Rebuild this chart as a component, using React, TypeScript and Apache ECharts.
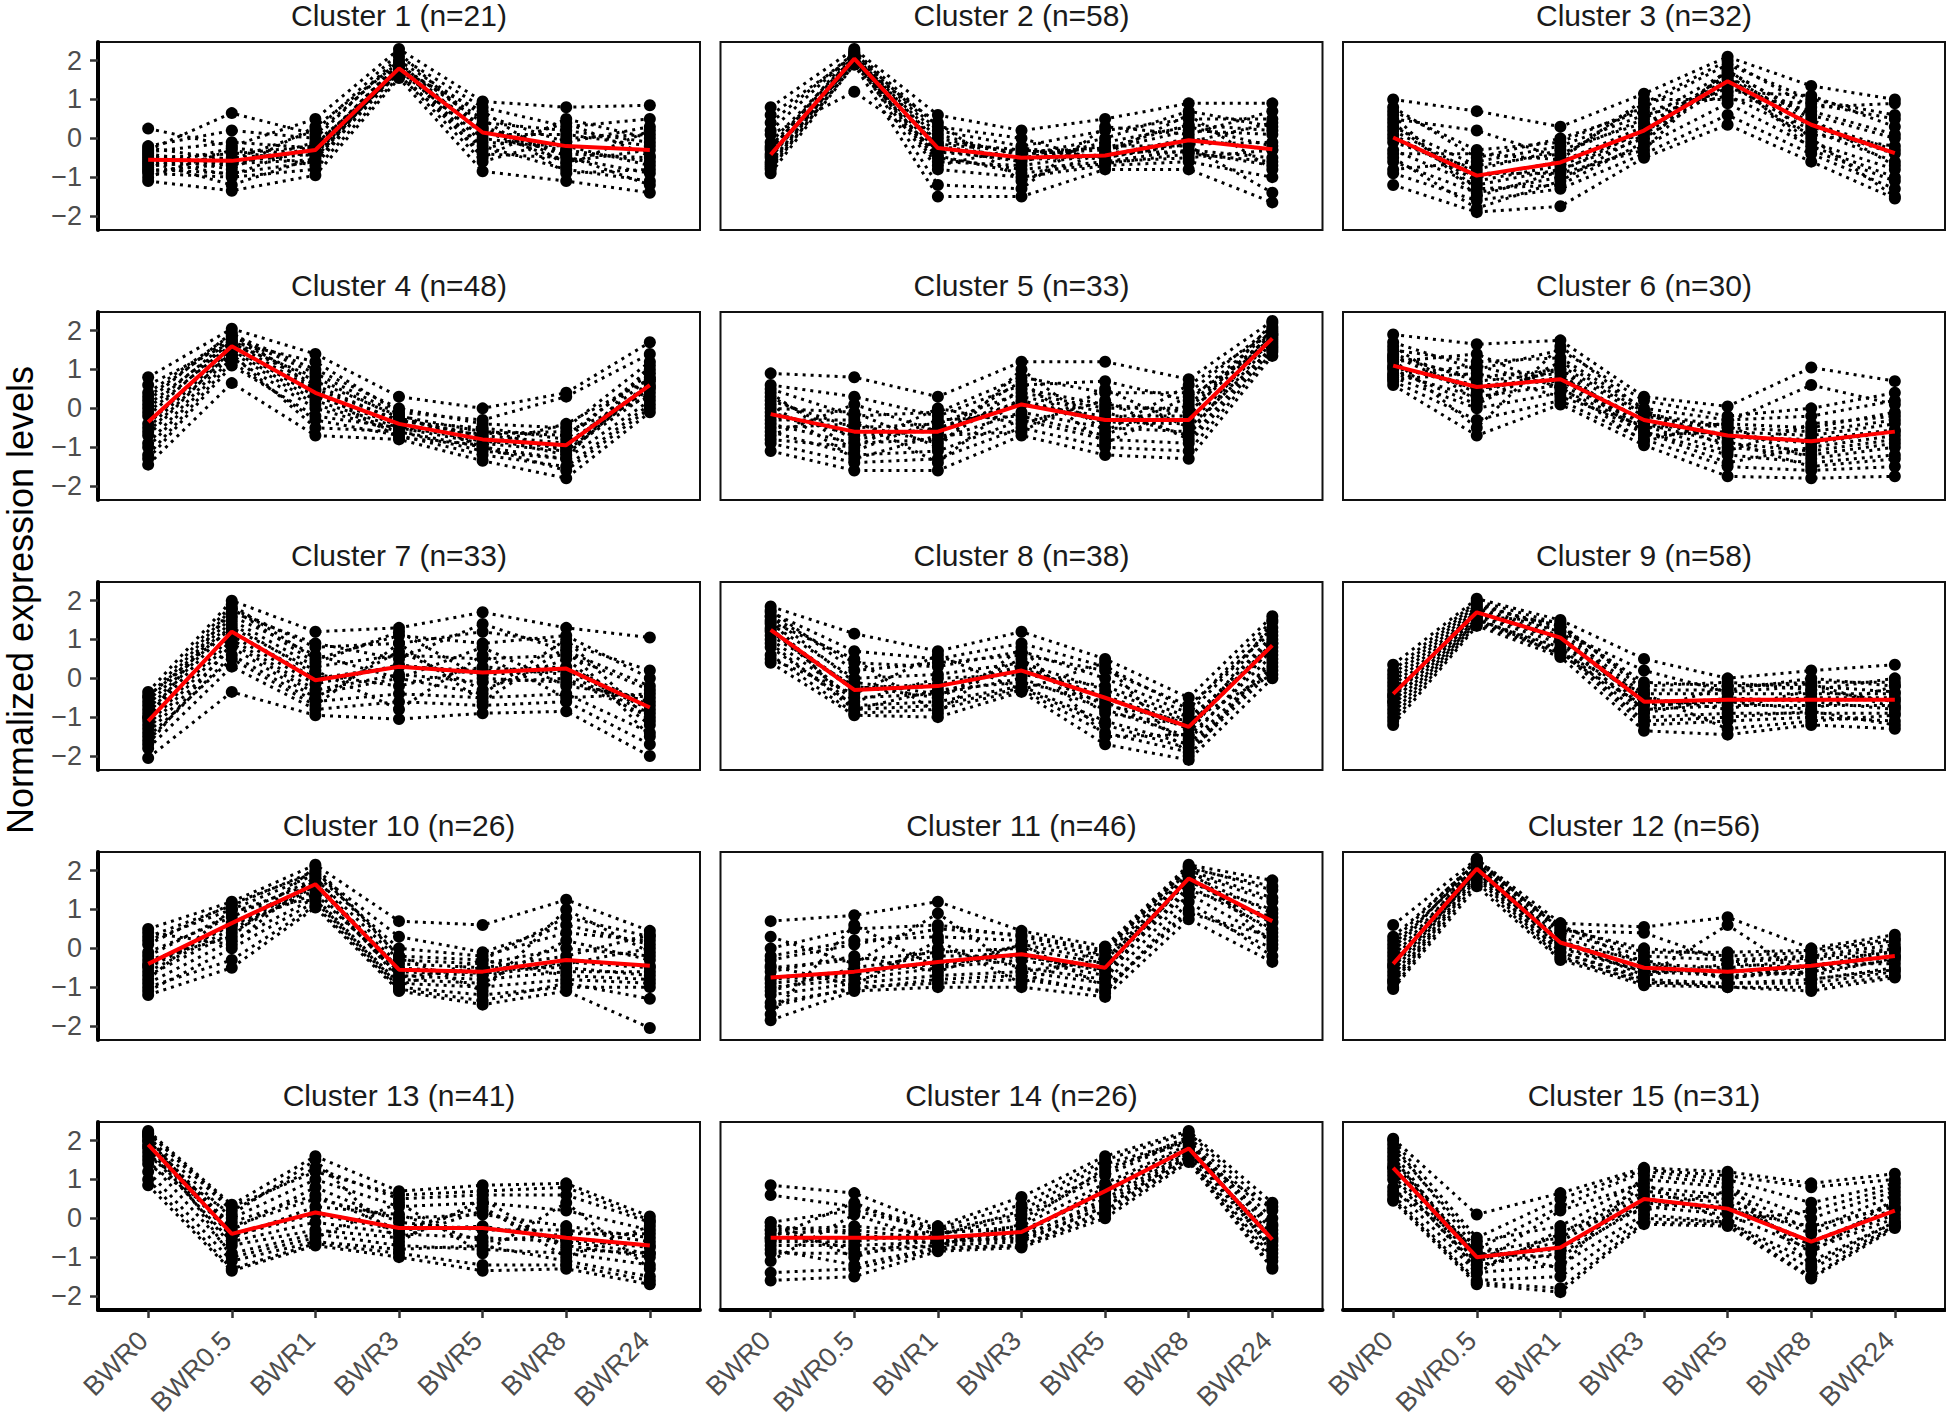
import React, { useEffect, useRef } from 'react';
import * as echarts from 'echarts';

const timePoints = ['BWR0', 'BWR0.5', 'BWR1', 'BWR3', 'BWR5', 'BWR8', 'BWR24'];
const clusterSizes = [21, 58, 32, 48, 33, 30, 33, 38, 58, 26, 46, 56, 41, 26, 31];
const yTicks = [-2, -1, 0, 1, 2];
const xTicks = [0, 1, 2, 3, 4, 5, 6];

const clusterMeans = [
  [-0.55, -0.58, -0.3, 1.8, 0.15, -0.2, -0.3],
  [-0.42, 2.05, -0.25, -0.5, -0.44, -0.05, -0.28],
  [0.02, -0.96, -0.62, 0.2, 1.47, 0.35, -0.38],
  [-0.35, 1.6, 0.4, -0.4, -0.8, -0.95, 0.6],
  [-0.15, -0.6, -0.6, 0.1, -0.3, -0.3, 1.8],
  [1.1, 0.55, 0.75, -0.3, -0.7, -0.85, -0.6],
  [-1.1, 1.2, -0.05, 0.3, 0.15, 0.25, -0.75],
  [1.25, -0.3, -0.2, 0.2, -0.5, -1.25, 0.85],
  [-0.4, 1.7, 1.05, -0.6, -0.55, -0.55, -0.55],
  [-0.4, 0.65, 1.65, -0.55, -0.6, -0.3, -0.45],
  [-0.75, -0.6, -0.35, -0.15, -0.5, 1.8, 0.7],
  [-0.4, 2.05, 0.15, -0.5, -0.6, -0.45, -0.2],
  [1.9, -0.4, 0.15, -0.25, -0.25, -0.5, -0.7],
  [-0.5, -0.5, -0.5, -0.35, 0.7, 1.8, -0.55],
  [1.3, -1.0, -0.75, 0.5, 0.25, -0.6, 0.2],
];

const c1 = [
  [0.25, -0.2, 0.5, 2.3, 0.95, 0.8, 0.85],
  [-1.1, -1.35, -0.95, 1.55, -0.85, -1.1, -1.4],
  [-0.3, 0.65, 0.1, 2.0, 0.6, -0.1, 0.3],
  [-0.8, -0.9, -0.6, 1.7, -0.4, -0.5, -0.9],
  [-0.5, -0.4, -0.2, 1.9, 0.4, 0.2, -0.1],
  [-0.9, -1.0, -0.8, 1.6, -0.2, -0.8, -1.1],
  [-0.2, 0.2, 0.0, 2.1, 0.8, 0.3, 0.5],
  [-0.7, -0.6, -0.4, 1.75, 0.0, -0.3, -0.6],
  [-0.6, -1.2, -0.5, 1.8, 0.2, -0.6, -0.3],
  [-0.4, -0.7, -0.1, 1.65, -0.6, 0.0, 0.1],
  [-1.0, -0.3, -0.7, 1.85, 0.5, -0.9, -0.8],
  [-0.45, -0.8, 0.3, 1.95, -0.5, 0.5, 0.0],
  [-0.65, -0.5, -0.35, 1.7, 0.3, -0.4, -0.5],
  [-0.35, -0.1, -0.25, 1.95, 0.1, 0.1, -0.2],
  [-0.85, -0.65, -0.55, 1.85, -0.1, -0.2, -0.7],
  [-0.55, -0.95, -0.15, 1.75, 0.7, -0.7, 0.2],
  [-0.75, -0.25, -0.45, 1.9, -0.3, 0.4, -0.45],
  [-0.25, -0.55, 0.2, 2.2, 0.25, -0.45, -1.2],
];
const c2 = [
  [0.8, 2.3, 0.6, 0.2, 0.5, 0.9, 0.9],
  [-0.9, 1.9, -1.5, -1.5, -0.8, -0.8, -1.65],
  [0.4, 2.2, 0.2, -0.2, 0.2, 0.5, 0.5],
  [-0.6, 2.0, -0.5, -0.8, -0.6, -0.3, -0.5],
  [-0.2, 2.1, 0.0, -0.4, -0.3, 0.2, 0.1],
  [-0.8, 1.95, -0.8, -1.0, -0.7, -0.6, -1.0],
  [0.1, 1.2, -0.3, -0.6, -0.1, 0.3, -0.2],
  [-0.5, 2.15, -0.1, -0.3, -0.5, -0.1, 0.4],
  [-0.7, 2.05, -0.6, -0.7, -0.4, 0.6, -0.8],
  [-0.3, 2.25, 0.3, 0.0, -0.6, -0.5, -0.3],
  [0.6, 2.1, -1.2, -1.3, 0.3, 0.1, 0.7],
  [-0.4, 2.0, -0.2, -0.5, -0.2, -0.2, -1.4],
  [-0.45, 2.0, -0.35, -0.55, -0.45, 0.0, -0.3],
  [-0.1, 2.1, -0.15, -0.35, -0.25, 0.35, 0.2],
  [-0.75, 1.9, -0.45, -0.9, -0.65, -0.4, -0.6],
  [0.2, 2.2, 0.1, -0.45, 0.0, 0.7, 0.3],
  [-0.65, 2.05, -0.7, -0.25, -0.5, -0.15, -0.1],
  [-0.25, 1.95, 0.4, -1.1, -0.35, -0.35, -0.7],
];
const c3 = [
  [1.0, 0.7, 0.3, 1.15, 2.1, 1.35, 1.0],
  [-1.2, -1.9, -1.75, -0.5, 0.35, -0.6, -1.55],
  [0.7, -0.3, -0.1, 0.8, 1.9, 1.0, 0.6],
  [-0.6, -1.4, -1.0, -0.2, 0.9, -0.2, -1.0],
  [0.3, -0.7, -0.4, 0.5, 1.7, 0.6, 0.0],
  [-0.3, -1.2, -0.8, 0.0, 1.4, 0.2, -0.6],
  [0.5, 0.2, -0.5, 0.9, 2.0, 0.8, 0.9],
  [-0.9, -1.6, -1.3, -0.4, 0.6, -0.4, -1.3],
  [0.0, -1.0, -0.6, 0.3, 1.6, 0.4, -0.3],
  [0.8, -0.5, 0.0, 0.7, 1.2, 1.1, 0.3],
  [-0.5, -1.8, -1.1, 0.1, 1.5, -0.1, -0.8],
  [0.2, -0.9, -0.9, -0.3, 1.8, 0.0, -1.5],
  [0.1, -1.1, -0.7, 0.15, 1.55, 0.3, -0.4],
  [-0.1, -0.8, -0.3, 0.4, 1.3, 0.7, 0.1],
  [0.4, -1.3, -1.2, -0.1, 1.75, 0.5, -0.7],
  [-0.8, -0.6, -0.2, 0.6, 1.1, 0.1, -0.2],
  [0.6, -1.5, -0.85, 0.2, 1.65, -0.3, -1.1],
  [-0.4, -0.4, -0.55, 1.0, 1.0, 0.9, 0.5],
];
const c4 = [
  [0.8, 2.05, 1.4, 0.3, 0.0, 0.4, 1.7],
  [-1.45, 0.65, -0.7, -0.8, -1.35, -1.8, -0.1],
  [0.4, 1.9, 1.0, 0.0, -0.4, -0.5, 1.2],
  [-1.0, 1.3, 0.0, -0.6, -1.1, -1.3, 0.2],
  [0.0, 1.8, 0.7, -0.2, -0.6, -0.7, 0.9],
  [-0.7, 1.5, 0.2, -0.5, -0.9, -1.1, 0.4],
  [-1.2, 1.2, -0.3, -0.7, -1.2, -1.5, 0.1],
  [0.2, 1.95, 0.5, -0.3, -0.7, -0.9, 0.6],
  [-0.4, 1.6, 0.3, -0.4, -0.8, -1.0, 0.8],
  [0.6, 1.7, 1.2, -0.1, -0.3, 0.3, 1.4],
  [-0.9, 1.4, -0.5, -0.6, -1.0, -1.6, 0.0],
  [-0.2, 1.75, 0.6, -0.35, -0.5, -0.8, 1.0],
  [-0.5, 1.55, 0.35, -0.45, -0.85, -1.0, 0.5],
  [-0.1, 1.65, 0.8, -0.25, -0.75, -1.2, 0.7],
  [-0.6, 1.45, 0.1, -0.55, -0.65, -0.6, 0.3],
  [0.3, 1.85, 0.9, -0.15, -1.0, -1.3, 1.1],
  [-1.3, 1.1, -0.2, -0.5, -0.55, -1.1, 0.55],
  [0.1, 1.7, 0.45, -0.75, -0.95, -0.4, 0.75],
];
const c5 = [
  [0.9, 0.8, 0.3, 1.2, 1.2, 0.75, 2.25],
  [-1.1, -1.6, -1.6, -0.7, -1.2, -1.3, 1.35],
  [0.5, -0.2, -0.1, 0.8, 0.4, 0.4, 2.1],
  [-0.6, -1.2, -1.1, -0.3, -0.8, -0.9, 1.5],
  [0.2, -0.5, -0.4, 0.4, 0.0, 0.0, 1.9],
  [-0.4, -0.9, -0.8, -0.1, -0.5, -0.6, 1.7],
  [0.6, 0.3, -0.2, 0.6, 0.7, 0.2, 2.0],
  [-0.9, -1.4, -1.3, -0.5, -1.0, -1.1, 1.45],
  [-0.2, -0.6, -0.6, 0.2, -0.3, -0.3, 1.8],
  [0.0, -0.1, -1.0, 1.0, -0.6, 0.6, 1.95],
  [-0.8, -1.0, 0.0, -0.4, 0.2, -0.8, 1.6],
  [0.3, -0.8, -0.5, 0.1, -0.2, -0.2, 2.2],
  [-0.1, -0.7, -0.55, 0.15, -0.35, -0.4, 1.75],
  [-0.5, -0.4, -0.9, 0.5, 0.1, -0.1, 1.85],
  [0.4, -1.1, -0.3, -0.2, -0.7, 0.3, 1.65],
  [-0.3, -0.3, -1.4, 0.3, -0.1, -0.7, 2.05],
  [0.1, -1.3, -0.7, -0.6, 0.5, -0.5, 1.55],
  [-0.7, 0.1, -0.6, 0.7, -0.9, 0.1, 1.9],
];
const c6 = [
  [1.9, 1.65, 1.75, 0.3, 0.05, 1.05, 0.7],
  [0.6, -0.7, 0.1, -0.95, -1.75, -1.8, -1.75],
  [1.5, 1.2, 1.3, 0.0, -0.3, -0.2, 0.2],
  [0.8, 0.0, 0.4, -0.6, -1.2, -1.4, -1.2],
  [1.3, 0.8, 1.0, -0.2, -0.5, -0.6, -0.3],
  [0.9, 0.3, 0.6, -0.4, -0.9, -1.1, -0.8],
  [1.7, 1.0, 1.5, 0.2, -0.2, 0.0, 0.4],
  [0.7, -0.3, 0.2, -0.8, -1.5, -1.6, -1.5],
  [1.1, 0.5, 0.8, -0.3, -0.7, -0.9, -0.6],
  [1.2, 1.4, 0.5, -0.5, -0.4, -0.5, -0.1],
  [1.0, 0.1, 1.2, -0.1, -1.0, -1.2, -0.9],
  [1.4, 0.7, 0.9, -0.7, -0.6, -0.7, -0.4],
  [1.05, 0.6, 0.7, -0.35, -0.75, -0.8, -0.55],
  [1.6, 0.2, 1.1, -0.15, -0.45, -1.3, -1.0],
  [0.75, 0.9, 0.3, -0.45, -1.1, -0.4, -0.2],
  [1.25, -0.5, 1.6, -0.05, -0.85, -1.5, -1.3],
  [0.85, 1.1, 0.55, -0.85, -0.35, 0.6, 0.1],
  [1.35, 0.4, 1.0, -0.6, -1.4, -1.0, -0.7],
];
const c7 = [
  [-0.35, 2.0, 1.2, 1.3, 1.7, 1.3, 1.05],
  [-2.05, -0.35, -0.95, -1.05, -0.9, -0.85, -2.0],
  [-0.6, 1.8, 0.8, 0.9, 1.2, 0.9, 0.2],
  [-1.6, 0.6, -0.6, -0.4, -0.5, -0.4, -1.4],
  [-0.9, 1.5, 0.3, 0.6, 0.5, 0.6, -0.3],
  [-1.3, 1.0, -0.3, 0.1, -0.1, 0.0, -1.0],
  [-0.5, 1.9, 0.5, 1.1, 0.9, 1.1, 0.0],
  [-1.8, 0.3, -0.8, -0.6, -0.7, -0.6, -1.7],
  [-1.1, 1.2, 0.0, 0.3, 0.2, 0.3, -0.7],
  [-0.8, 1.6, 0.6, 0.0, 0.8, -0.2, -0.5],
  [-1.4, 0.8, -0.5, 0.7, -0.3, 0.5, -1.2],
  [-1.0, 1.4, 0.1, -0.2, 0.3, 0.1, -0.9],
  [-1.2, 1.1, -0.15, 0.35, 0.1, 0.2, -0.8],
  [-0.7, 1.7, 0.9, 0.5, 1.4, 0.7, -0.2],
  [-1.5, 0.5, -0.7, 0.9, -0.6, 0.8, -1.5],
  [-0.45, 1.3, 0.2, -0.8, 0.6, -0.5, -0.4],
  [-1.7, 0.9, -0.4, 0.0, -0.4, 1.0, -1.1],
  [-1.0, 1.8, 0.4, 1.2, 0.0, -0.1, -0.6],
];
const c8 = [
  [1.85, 1.15, 0.7, 1.2, 0.5, -0.5, 1.6],
  [0.4, -0.95, -1.0, -0.35, -1.7, -2.1, 0.0],
  [1.6, 0.4, 0.3, 0.7, 0.0, -0.9, 1.3],
  [0.8, -0.7, -0.6, -0.2, -1.1, -1.7, 0.4],
  [1.4, 0.0, 0.1, 0.4, -0.3, -1.1, 1.0],
  [1.0, -0.5, -0.4, 0.0, -0.8, -1.5, 0.6],
  [1.7, 0.7, 0.5, 0.9, 0.3, -0.8, 1.5],
  [0.6, -0.9, -0.8, -0.3, -1.4, -1.9, 0.2],
  [1.2, -0.3, -0.2, 0.2, -0.5, -1.3, 0.9],
  [1.3, -0.6, 0.0, 0.1, -0.2, -1.0, 0.7],
  [1.1, -0.2, -0.5, 0.5, -0.9, -1.2, 1.1],
  [1.5, -0.8, -0.3, -0.1, -0.6, -1.6, 0.8],
  [1.25, -0.25, -0.15, 0.25, -0.45, -1.2, 0.9],
  [1.75, 0.2, 0.4, 0.6, 0.2, -0.7, 1.2],
  [0.9, -0.8, -0.7, -0.25, -1.2, -1.8, 0.3],
  [1.45, 0.5, -0.9, 0.8, -1.5, -1.45, 1.45],
  [0.5, -0.4, 0.6, -0.3, 0.4, -2.0, 0.5],
  [1.6, -0.1, -0.4, 0.35, -0.7, -1.1, 0.1],
];
const c9 = [
  [0.35, 2.05, 1.5, 0.5, 0.0, 0.2, 0.35],
  [-1.2, 1.35, 0.55, -1.35, -1.45, -1.2, -1.3],
  [0.0, 1.9, 1.3, -0.1, -0.2, -0.1, -0.1],
  [-0.8, 1.5, 0.8, -1.0, -0.9, -0.9, -0.9],
  [-0.2, 1.8, 1.2, -0.4, -0.4, -0.4, -0.4],
  [-0.6, 1.6, 0.9, -0.8, -0.7, -0.7, -0.7],
  [0.2, 2.0, 1.4, -0.3, -0.3, 0.0, -0.2],
  [-1.0, 1.45, 0.7, -1.2, -1.1, -1.0, -1.1],
  [-0.4, 1.7, 1.0, -0.6, -0.55, -0.55, -0.55],
  [-0.3, 1.75, 1.1, -0.5, -0.8, -0.3, -0.6],
  [-0.7, 1.55, 0.6, -0.7, -0.6, -0.8, -0.2],
  [-0.5, 1.65, 1.0, -0.9, -0.5, -0.6, -0.8],
  [-0.45, 1.7, 1.05, -0.65, -0.6, -0.5, -0.5],
  [-0.1, 1.85, 1.35, -0.2, -0.1, -0.3, 0.0],
  [-0.9, 1.5, 0.75, -1.1, -1.0, -0.85, -1.2],
  [0.1, 1.95, 1.2, 0.2, -0.35, -0.2, -0.35],
  [-1.1, 1.4, 0.65, -0.4, -1.3, -1.1, -0.95],
  [-0.6, 1.6, 1.45, -0.85, -0.2, -0.15, -0.75],
];
const c10 = [
  [0.5, 1.2, 2.15, 0.7, 0.6, 1.25, 0.45],
  [-1.2, -0.5, 1.05, -1.1, -1.45, -1.1, -2.05],
  [0.2, 1.0, 1.9, 0.0, -0.2, 0.4, 0.2],
  [-0.9, 0.2, 1.3, -0.9, -1.0, -0.8, -0.9],
  [-0.1, 0.8, 1.8, -0.3, -0.4, 0.0, -0.2],
  [-0.6, 0.5, 1.5, -0.7, -0.8, -0.6, -0.6],
  [0.3, 1.1, 2.0, -0.2, -0.3, 0.8, 0.3],
  [-1.1, 0.0, 1.2, -1.0, -1.2, -1.0, -1.0],
  [-0.4, 0.65, 1.65, -0.55, -0.6, -0.3, -0.45],
  [-0.2, 0.9, 1.7, -0.8, -0.9, 0.2, -0.3],
  [-0.7, 0.4, 1.6, -0.4, -0.5, -0.5, -0.7],
  [-0.5, 0.6, 1.4, -0.6, -0.7, -0.4, 0.0],
  [-0.45, 0.6, 1.6, -0.5, -0.65, -0.35, -0.5],
  [0.1, 1.15, 1.95, 0.3, -0.1, 0.6, 0.1],
  [-1.0, -0.3, 1.1, -1.05, -1.35, -0.9, -1.3],
  [-0.3, 0.3, 2.1, -0.2, -1.1, 1.0, -0.1],
  [-0.8, 1.0, 1.25, -0.95, -0.3, -0.7, -0.8],
  [0.4, 0.1, 1.85, -0.75, -0.5, -0.2, 0.35],
];
const c11 = [
  [0.7, 0.85, 1.2, 0.45, 0.05, 2.15, 1.75],
  [-1.85, -1.1, -1.0, -1.0, -1.25, 0.75, -0.35],
  [-0.2, 0.2, 0.3, 0.2, -0.2, 2.0, 1.3],
  [-1.2, -0.9, -0.7, -0.6, -0.9, 1.4, 0.2],
  [-0.5, -0.3, -0.1, 0.0, -0.4, 1.9, 0.9],
  [-1.0, -0.8, -0.5, -0.3, -0.7, 1.6, 0.5],
  [0.0, 0.5, 0.6, 0.3, -0.1, 2.1, 1.5],
  [-1.5, -1.0, -0.9, -0.8, -1.1, 1.0, 0.0],
  [-0.75, -0.6, -0.35, -0.15, -0.5, 1.8, 0.7],
  [-0.6, -0.2, -0.6, 0.1, -0.3, 1.7, 1.0],
  [-0.9, -0.7, 0.0, -0.5, -0.8, 1.85, 0.4],
  [-1.1, -0.5, -0.2, -0.2, -0.6, 1.5, 0.8],
  [-0.8, -0.65, -0.4, -0.2, -0.55, 1.75, 0.65],
  [-0.3, 0.1, 0.5, 0.35, -0.05, 2.05, 1.6],
  [-1.4, -1.05, -0.8, -0.7, -1.15, 1.2, -0.2],
  [0.3, -0.4, 0.9, -0.6, -0.3, 1.95, 1.2],
  [-1.7, 0.6, -0.5, 0.1, -1.0, 0.9, 0.3],
  [-0.45, -0.95, 0.2, -0.9, 0.0, 2.1, 0.1],
];
const c12 = [
  [0.6, 2.3, 0.65, 0.55, 0.8, 0.0, 0.35],
  [-1.05, 1.6, -0.3, -0.95, -1.0, -1.1, -0.75],
  [0.0, 2.2, 0.4, -0.2, -0.3, -0.2, 0.1],
  [-0.8, 1.9, -0.1, -0.8, -0.9, -0.8, -0.5],
  [-0.2, 2.1, 0.3, -0.4, -0.5, -0.3, -0.1],
  [-0.6, 2.0, 0.0, -0.6, -0.7, -0.6, -0.3],
  [0.2, 2.25, 0.5, 0.0, -0.2, -0.1, 0.2],
  [-0.9, 1.8, -0.2, -0.9, -0.9, -0.9, -0.6],
  [-0.4, 2.05, 0.15, -0.5, -0.6, -0.45, -0.2],
  [-0.3, 2.15, 0.2, -0.7, -0.4, -0.5, 0.0],
  [-0.5, 1.95, 0.1, -0.3, -0.8, -0.4, -0.4],
  [-0.7, 2.0, 0.05, -0.6, -0.55, -0.7, -0.25],
  [-0.45, 2.05, 0.2, -0.55, -0.6, -0.5, -0.2],
  [0.3, 2.2, 0.55, -0.1, -0.1, -0.05, 0.25],
  [-1.0, 1.7, -0.25, -0.85, -1.0, -1.0, -0.7],
  [-0.1, 2.3, 0.45, 0.4, -0.35, -0.25, 0.0],
  [-0.85, 1.85, -0.1, -0.75, 0.6, -0.8, -0.55],
  [0.1, 2.1, 0.6, -0.4, -0.75, -0.6, -0.05],
];
const c13 = [
  [2.25, 0.35, 1.6, 0.7, 0.85, 0.9, 0.05],
  [0.85, -1.35, -0.7, -1.0, -1.35, -1.3, -1.7],
  [2.1, 0.0, 1.0, 0.3, 0.4, 0.2, -0.3],
  [1.5, -0.9, -0.4, -0.7, -0.8, -0.9, -1.2],
  [2.0, -0.2, 0.5, 0.0, 0.1, -0.2, -0.5],
  [1.7, -0.6, -0.1, -0.4, -0.5, -0.6, -0.9],
  [2.2, 0.2, 1.3, 0.5, 0.6, 0.6, -0.1],
  [1.2, -1.1, -0.6, -0.8, -0.7, -1.1, -1.5],
  [1.9, -0.4, 0.15, -0.25, -0.25, -0.5, -0.7],
  [2.0, -0.3, 0.8, -0.1, -0.3, -0.3, -0.6],
  [1.8, -0.7, -0.3, -0.5, 0.2, -0.7, -1.0],
  [2.1, -0.5, 0.3, 0.1, -0.6, -0.4, -0.4],
  [1.85, -0.45, 0.1, -0.3, -0.2, -0.55, -0.75],
  [2.2, 0.3, 1.2, 0.6, 0.7, 0.8, -0.05],
  [1.0, -1.3, -0.65, -0.9, -1.2, -1.2, -1.6],
  [1.6, 0.1, 1.5, -0.6, 0.5, -0.8, -0.9],
  [2.15, -1.0, -0.5, 0.4, -0.9, 0.4, -1.3],
  [1.4, -0.1, 0.6, -0.3, 0.3, -1.0, -0.2],
];
const c14 = [
  [0.85, 0.65, -0.2, 0.55, 1.6, 2.25, 0.4],
  [-1.6, -1.5, -0.85, -0.75, 0.0, 1.45, -1.3],
  [-0.1, 0.2, -0.3, 0.1, 1.2, 2.1, 0.0],
  [-0.9, -0.9, -0.7, -0.6, 0.3, 1.6, -1.0],
  [-0.3, -0.2, -0.4, -0.2, 0.9, 1.9, -0.3],
  [-0.7, -0.7, -0.6, -0.5, 0.5, 1.7, -0.8],
  [-0.5, 0.4, -0.45, 0.2, 1.4, 2.0, -0.2],
  [-0.8, -1.2, -0.75, -0.7, 0.2, 1.55, -1.1],
  [-0.5, -0.5, -0.5, -0.35, 0.7, 1.8, -0.55],
  [-0.4, -0.3, -0.55, -0.4, 0.8, 1.85, -0.6],
  [-0.6, -0.6, -0.35, -0.3, 0.6, 1.75, -0.7],
  [-0.2, -0.4, -0.65, -0.45, 0.4, 1.65, -0.4],
  [-0.55, -0.5, -0.5, -0.4, 0.7, 1.8, -0.5],
  [0.6, 0.3, -0.25, 0.35, 1.5, 2.2, 0.2],
  [-1.4, -1.3, -0.8, -0.7, 0.1, 1.5, -1.25],
  [-0.1, -1.0, -0.4, 0.0, 1.1, 2.05, -0.9],
  [-1.1, 0.1, -0.6, -0.55, 0.3, 1.6, 0.3],
  [-0.3, -0.8, -0.7, -0.15, 1.3, 1.95, -0.15],
];
const c15 = [
  [2.05, 0.1, 0.65, 1.3, 1.2, 0.9, 1.15],
  [0.45, -1.7, -1.9, -0.15, -0.2, -1.55, -0.25],
  [1.8, -0.6, -0.2, 1.0, 0.8, 0.0, 0.7],
  [0.8, -1.4, -1.2, 0.1, -0.1, -1.1, -0.1],
  [1.5, -0.9, -0.5, 0.7, 0.5, -0.4, 0.4],
  [1.0, -1.2, -0.9, 0.3, 0.1, -0.8, 0.0],
  [1.9, -0.8, 0.3, 1.2, 1.0, 0.4, 0.9],
  [0.6, -1.6, -1.5, 0.0, -0.1, -1.3, -0.2],
  [1.3, -1.0, -0.75, 0.5, 0.25, -0.6, 0.2],
  [1.2, -1.1, -0.6, 0.6, 0.4, -0.7, 0.1],
  [1.4, -0.9, -1.0, 0.4, 0.2, -0.2, 0.3],
  [1.1, -1.3, -0.4, 0.8, 0.6, -0.9, 0.5],
  [1.3, -0.95, -0.8, 0.45, 0.3, -0.6, 0.25],
  [2.0, -0.5, 0.5, 1.25, 1.1, 0.8, 1.0],
  [0.5, -1.65, -1.8, -0.1, -0.15, -1.5, -0.2],
  [1.7, -1.2, 0.2, 0.9, -0.1, 0.2, 0.8],
  [0.7, -0.7, -1.3, 1.1, 0.9, -1.2, -0.1],
  [1.6, -1.4, -0.3, 0.2, 0.7, -0.3, 0.6],
];
const clusterGenes = [c1, c2, c3, c4, c5, c6, c7, c8, c9, c10, c11, c12, c13, c14, c15];

const FONT = '"Liberation Sans", Arial, Helvetica, sans-serif';
const COL_LEFT = [98, 720.5, 1343];
const ROW_TOP = [42, 312, 582, 852, 1122];
const PANEL_W = 602;
const PANEL_H = 188;
const Y_MIN = -2.36;
const Y_MAX = 2.48;
const X_MIN = -0.6;
const X_MAX = 6.6;

function fmtY(v: number) {
  return v < 0 ? '\u2212' + Math.abs(v) : String(v);
}

export default function App() {
  const ref = useRef<HTMLDivElement>(null);
  useEffect(() => {
    if (!ref.current) return;
    const chart = echarts.init(ref.current, undefined, { renderer: 'svg' });
    const grids: any[] = [];
    const xAxes: any[] = [];
    const yAxes: any[] = [];
    const series: any[] = [];
    const graphics: any[] = [];

    clusterGenes.forEach((genes, i) => {
      const row = Math.floor(i / 3);
      const col = i % 3;
      const isBottom = row === 4;
      const isLeft = col === 0;
      grids.push({
        left: COL_LEFT[col],
        top: ROW_TOP[row],
        width: PANEL_W,
        height: PANEL_H,
        show: true,
        borderColor: '#111',
        borderWidth: 2,
        backgroundColor: 'transparent',
        containLabel: false,
      });
      xAxes.push({
        type: 'value',
        gridIndex: i,
        min: X_MIN,
        max: X_MAX,
        splitLine: { show: false },
        axisLine: { show: isBottom, onZero: false, lineStyle: { color: '#000', width: 4 } },
        axisTick: {
          show: isBottom,
          customValues: xTicks,
          length: 8,
          lineStyle: { color: '#333', width: 2.5 },
        },
        axisLabel: { show: false },
      });
      yAxes.push({
        type: 'value',
        gridIndex: i,
        min: Y_MIN,
        max: Y_MAX,
        splitLine: { show: false },
        axisLine: { show: isLeft, onZero: false, lineStyle: { color: '#000', width: 4 } },
        axisTick: {
          show: isLeft,
          customValues: yTicks,
          length: 8,
          lineStyle: { color: '#333', width: 2.5 },
        },
        axisLabel: {
          show: isLeft,
          customValues: yTicks,
          formatter: (v: number) => fmtY(v),
          color: '#4D4D4D',
          fontSize: 27,
          fontFamily: FONT,
          margin: 16,
        },
      });
      genes.forEach((g) => {
        series.push({
          type: 'line',
          xAxisIndex: i,
          yAxisIndex: i,
          data: g.map((v, k) => [xTicks[k], v]),
          symbol: 'circle',
          symbolSize: 12,
          itemStyle: { color: '#000' },
          lineStyle: { color: '#000', width: 3, type: [3, 5] },
          silent: true,
          z: 2,
        });
      });
      series.push({
        type: 'line',
        xAxisIndex: i,
        yAxisIndex: i,
        data: clusterMeans[i].map((v, k) => [xTicks[k], v]),
        symbol: 'none',
        lineStyle: { color: '#FF0000', width: 4 },
        silent: true,
        z: 3,
      });
      graphics.push({
        type: 'text',
        x: COL_LEFT[col] + PANEL_W / 2,
        y: ROW_TOP[row] - 27,
        style: {
          text: `Cluster ${i + 1} (n=${clusterSizes[i]})`,
          fill: '#1a1a1a',
          fontSize: 30,
          fontFamily: FONT,
          align: 'center',
          verticalAlign: 'middle',
        },
      });
    });

    graphics.push({
      type: 'text',
      x: 20,
      y: 600,
      rotation: Math.PI / 2,
      style: {
        text: 'Normalized expression levels',
        fill: '#000',
        fontSize: 36,
        fontFamily: FONT,
        align: 'center',
        verticalAlign: 'middle',
      },
    });

    chart.setOption({
      animation: false,
      backgroundColor: '#fff',
      grid: grids,
      xAxis: xAxes,
      yAxis: yAxes,
      series,
    });

    for (let i = 12; i < 15; i++) {
      xTicks.forEach((t, k) => {
        const p = chart.convertToPixel({ gridIndex: i }, [t, Y_MIN]) as number[];
        graphics.push({
          type: 'text',
          x: p[0] - 5,
          y: p[1] + 26,
          rotation: Math.PI / 4,
          style: {
            text: timePoints[k],
            fill: '#4D4D4D',
            fontSize: 27,
            fontFamily: FONT,
            align: 'right',
            verticalAlign: 'middle',
          },
        });
      });
    }
    chart.setOption({ graphic: graphics });

    return () => chart.dispose();
  }, []);
  return (
    <div
      ref={ref}
      style={{ position: 'absolute', left: 0, top: 0, width: 1946, height: 1423 }}
    />
  );
}
